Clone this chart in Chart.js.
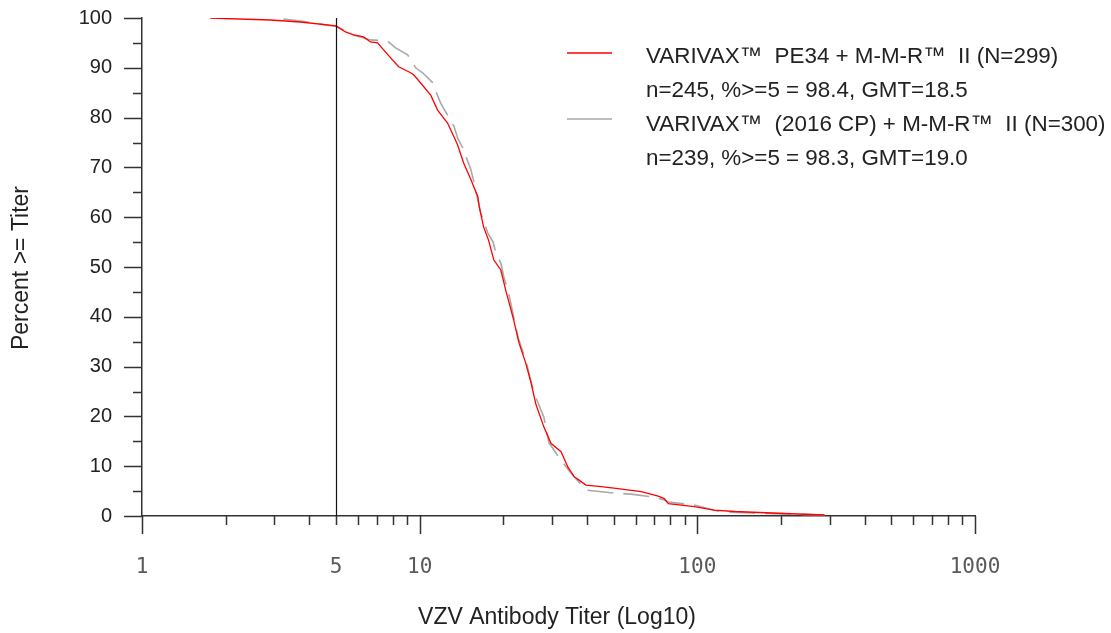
<!DOCTYPE html>
<html lang="en">
<head>
    <meta charset="UTF-8">
    <title>VZV Antibody Titer - Reverse Cumulative Distribution</title>
    <script src="https://cdn.jsdelivr.net/npm/chart.js"></script>
    <style>
        html, body { margin: 0; padding: 0; background: #fff; }
        #wrap { width: 1111px; height: 633px; }
    </style>
</head>
<body>

<div id="wrap">
    <canvas id="myChart"></canvas>
</div>

<script>
// Red curve: VARIVAX PE34 + M-M-R II
const redTiter = [1.76, 2.90, 3.72, 5.0, 5.41, 5.78, 6.28, 6.65, 7.05, 7.86, 8.40, 9.28, 9.51, 10.1,
    10.96, 11.6, 12.6, 13.3, 13.7, 14.4, 15.3, 16.2, 16.4, 17.0, 17.7, 18.5, 19.6, 20.4, 21.8, 22.8,
    24.1, 25.2, 26.2, 28.0, 29.7, 32.3, 34.2, 36.0, 37.5, 39.7, 45.0, 50.1, 62.8, 72.3, 76.0, 78.6,
    97.5, 115, 136, 206, 287];
const redPct = [100, 99.6, 99.2, 98.4, 97.2, 96.6, 96.2, 95.2, 95.0, 92.0, 90.2, 89.0, 88.6, 86.9,
    84.5, 81.5, 78.9, 76.1, 74.5, 70.9, 67.5, 64.1, 62.0, 58.0, 55.4, 51.4, 49.4, 45.4, 39.4, 34.7,
    30.7, 26.7, 22.5, 17.9, 14.6, 12.9, 9.8, 7.9, 7.2, 6.2, 5.9, 5.6, 4.9, 4.0, 3.5, 2.5,
    1.9, 1.2, 0.9, 0.5, 0.2];

// Gray curve: VARIVAX (2016 CP) + M-M-R II
const grayTiter = [3.23, 3.72, 5.0, 5.78, 6.65, 7.66, 8.19, 9.05, 9.67, 10.25, 11.1, 11.9, 12.6, 13.3,
    13.7, 14.3, 15.3, 15.7, 16.6, 17.6, 18.4, 18.8, 19.6, 20.1, 20.9, 22.6, 24.1, 25.8, 28.0, 29.2,
    32.3, 35.1, 39.7, 50.1, 57.8, 69.9, 76.0, 78.6, 97.5, 122, 157, 287];
const grayPct = [99.8, 99.4, 98.3, 96.6, 95.6, 95.4, 94.0, 92.6, 90.0, 89.0, 87.1, 82.9, 80.5, 78.2,
    75.9, 73.9, 69.5, 66.9, 60.8, 56.8, 55.0, 52.8, 50.8, 48.0, 44.8, 35.9, 31.3, 24.7, 19.9, 14.7,
    11.2, 8.6, 5.2, 4.6, 4.4, 3.8, 3.2, 2.8, 2.2, 0.8, 0.6, 0.2];

// tick marks and labels
const xTicks = [1, 2, 3, 4, 5, 6, 7, 8, 9, 10, 20, 30, 40, 50, 60, 70, 80, 90,
    100, 200, 300, 400, 500, 600, 700, 800, 900, 1000];
const xMajorTicks = [1, 10, 100, 1000];
const xLabelTicks = [1, 5, 10, 100, 1000];
const yTicks = [0, 10, 20, 30, 40, 50, 60, 70, 80, 90, 100];
const yMinorTicks = [5, 15, 25, 35, 45, 55, 65, 75, 85, 95];
const cutoff = 5;

const legendItems = [
    { color: '#ff0000', lines: ['VARIVAX\u2122  PE34 + M-M-R\u2122  II (N=299)', 'n=245, %>=5 = 98.4, GMT=18.5'] },
    { color: '#a8a8a8', lines: ['VARIVAX\u2122  (2016 CP) + M-M-R\u2122  II (N=300)', 'n=239, %>=5 = 98.3, GMT=19.0'] }
];
const xTitle = 'VZV Antibody Titer (Log10)';
const yTitle = 'Percent >= Titer';

function toPoints(xs, ys) {
    return xs.map((x, i) => ({ x: x, y: ys[i] }));
}

// draws tick marks, the cutoff line, axis titles and the legend
const decorPlugin = {
    id: 'decor',
    afterDraw(chart) {
        const ctx = chart.ctx;
        const xs = chart.scales.x;
        const ys = chart.scales.y;
        const area = chart.chartArea;
        ctx.save();
        ctx.strokeStyle = '#333';
        ctx.lineWidth = 1.5;
        ctx.beginPath();
        xTicks.forEach(v => {
            const px = Math.round(xs.getPixelForValue(v)) + 0.5;
            const len = xMajorTicks.includes(v) ? 18 : 9;
            ctx.moveTo(px, area.bottom);
            ctx.lineTo(px, area.bottom + len);
        });
        yTicks.forEach(v => {
            const py = Math.round(ys.getPixelForValue(v)) + 0.5;
            ctx.moveTo(area.left - 18, py);
            ctx.lineTo(area.left, py);
        });
        yMinorTicks.forEach(v => {
            const py = Math.round(ys.getPixelForValue(v)) + 0.5;
            ctx.moveTo(area.left - 9, py);
            ctx.lineTo(area.left, py);
        });
        ctx.stroke();

        // vertical line at titer = 5
        const cx = Math.round(xs.getPixelForValue(cutoff)) + 0.5;
        ctx.strokeStyle = '#111';
        ctx.lineWidth = 1.2;
        ctx.beginPath();
        ctx.moveTo(cx, ys.getPixelForValue(100));
        ctx.lineTo(cx, area.bottom);
        ctx.stroke();

        // axis titles
        ctx.fillStyle = '#222';
        ctx.font = '23px "Liberation Sans", Arial, sans-serif';
        ctx.textAlign = 'center';
        ctx.textBaseline = 'middle';
        ctx.fillText(xTitle, 557, 618);
        ctx.save();
        ctx.translate(22, 268);
        ctx.rotate(-Math.PI / 2);
        ctx.fillText(yTitle, 0, 0);
        ctx.restore();

        // legend
        ctx.textAlign = 'left';
        ctx.font = '22.4px "Liberation Sans", Arial, sans-serif';
        legendItems.forEach((item, i) => {
            const top = 57 + i * 68;
            const ly = 53 + i * 66;
            ctx.strokeStyle = item.color;
            ctx.lineWidth = 1.5;
            ctx.beginPath();
            ctx.moveTo(567, ly);
            ctx.lineTo(612, ly);
            ctx.stroke();
            ctx.fillStyle = '#222';
            item.lines.forEach((t, j) => ctx.fillText(t, 646, top + j * 34));
        });
        ctx.restore();
    }
};

const ctx = document.getElementById('myChart').getContext('2d');
const myChart = new Chart(ctx, {
    type: 'scatter',
    data: {
        datasets: [{
            label: legendItems[0].lines[0],
            data: toPoints(redTiter, redPct),
            borderColor: '#ff0000',
            borderWidth: 1.3,
            showLine: true,
            pointRadius: 0,
            tension: 0
        }, {
            label: legendItems[1].lines[0],
            data: toPoints(grayTiter, grayPct),
            borderColor: '#a8a8a8',
            borderWidth: 1.6,
            borderDash: [26, 10],
            showLine: true,
            pointRadius: 0,
            tension: 0
        }]
    },
    options: {
        responsive: true,
        maintainAspectRatio: false,
        animation: false,
        layout: { padding: { top: 18, right: 136, bottom: 0, left: 0 } },
        plugins: {
            legend: { display: false },
            tooltip: { enabled: false }
        },
        scales: {
            x: {
                type: 'logarithmic',
                min: 1,
                max: 1000,
                grid: { display: false, drawTicks: false },
                border: { display: true, color: '#333', width: 1.5 },
                afterBuildTicks: scale => { scale.ticks = xTicks.map(v => ({ value: v })); },
                afterFit: scale => { scale.height = 117; scale.paddingLeft = 0; scale.paddingRight = 0; },
                ticks: {
                    autoSkip: false,
                    maxRotation: 0,
                    padding: 39,
                    color: '#5a5a5a',
                    font: { family: '"DejaVu Sans Mono", monospace', size: 21 },
                    callback: v => xLabelTicks.includes(v) ? String(v) : ''
                }
            },
            y: {
                min: 0,
                max: 100,
                grid: { display: false, drawTicks: false },
                border: { display: true, color: '#333', width: 1.5 },
                afterBuildTicks: scale => { scale.ticks = yTicks.map(v => ({ value: v })); },
                afterFit: scale => { scale.width = 142; scale.paddingTop = 0; scale.paddingBottom = 0; },
                ticks: {
                    padding: 30,
                    color: '#222',
                    font: { family: '"Liberation Sans", Arial, sans-serif', size: 20 }
                }
            }
        }
    },
    plugins: [decorPlugin]
});
</script>

</body>
</html>
